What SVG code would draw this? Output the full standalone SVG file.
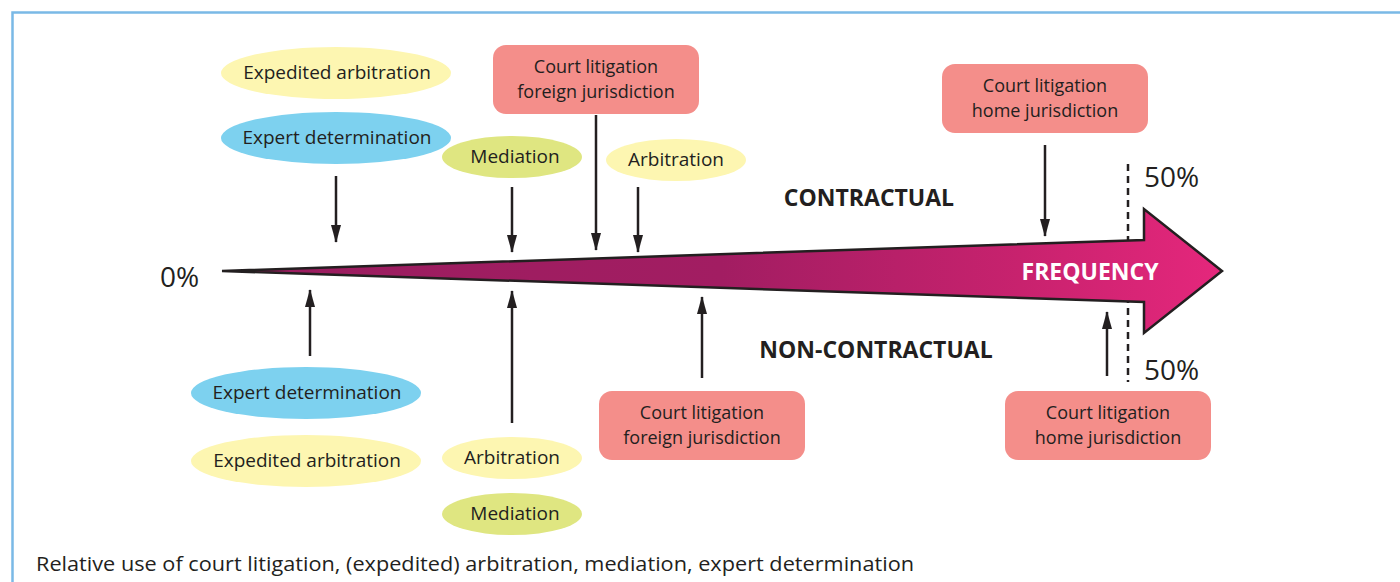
<svg xmlns="http://www.w3.org/2000/svg" width="1400" height="582" viewBox="0 0 1400 582">
<defs>
<style>
.t{font-family:"Open Sans","Liberation Sans",sans-serif;font-size:19px;fill:#231f20;text-anchor:middle}
.t2{font-family:"Open Sans","Liberation Sans",sans-serif;font-size:18px;fill:#231f20;text-anchor:middle}
.big{font-family:"Open Sans","Liberation Sans",sans-serif;font-size:28px;fill:#231f20}
.lbl{font-family:"Open Sans","Liberation Sans",sans-serif;font-size:23px;font-weight:bold;fill:#231f20;text-anchor:middle}
.yel{fill:#fdf6b1}
.blu{fill:#7dd1ef}
.grn{fill:#dfe681}
.pnk{fill:#f48e8a}
.con line{stroke:#231f20;stroke-width:2.5;marker-end:url(#ah)}
</style>
<marker id="ah" viewBox="0 0 18 10" refX="17" refY="5" markerWidth="18" markerHeight="10" markerUnits="userSpaceOnUse" orient="auto">
<path d="M0,0 L18,5 L0,10 Z" fill="#231f20"/>
</marker>
<linearGradient id="gr" x1="222" y1="0" x2="1222" y2="0" gradientUnits="userSpaceOnUse">
<stop offset="0" stop-color="#9a1d5f"/>
<stop offset="0.5" stop-color="#a21d62"/>
<stop offset="0.8" stop-color="#c8226e"/>
<stop offset="1" stop-color="#e5277c"/>
</linearGradient>
</defs>
<rect width="1400" height="582" fill="#fff"/>
<rect x="12.5" y="12.5" width="1400" height="600" fill="none" stroke="#7ab9e6" stroke-width="2.5"/>

<g id="half-line">
<line x1="1128" y1="164" x2="1128" y2="382" stroke="#231f20" stroke-width="2.5" stroke-dasharray="7,5"/>
<text class="big" x="1144" y="187">50%</text>
<text class="big" x="1144" y="380">50%</text>
</g>

<g id="freq-arrow">
<path d="M222,271 L1144,240 L1144,209 L1222,271 L1144,333 L1144,302 Z" fill="url(#gr)" stroke="#231f20" stroke-width="2.5" stroke-linejoin="miter"/>
<text x="1090" y="280" font-family="Open Sans, Liberation Sans, sans-serif" font-size="23" font-weight="bold" fill="#fff" text-anchor="middle">FREQUENCY</text>
</g>

<text id="zero" class="big" x="160" y="287">0%</text>
<text id="contractual" class="lbl" x="869" y="206">CONTRACTUAL</text>
<text id="noncontractual" class="lbl" x="876" y="358">NON-CONTRACTUAL</text>

<g id="top-expedited"><ellipse class="yel" cx="336" cy="73" rx="115" ry="26"/><text class="t" x="337" y="79">Expedited arbitration</text></g>
<g id="top-expert"><ellipse class="blu" cx="336" cy="138" rx="115" ry="26"/><text class="t" x="337" y="144">Expert determination</text></g>
<g id="top-mediation"><ellipse class="grn" cx="512" cy="157" rx="70" ry="21"/><text class="t" x="515" y="163">Mediation</text></g>
<g id="top-arbitration"><ellipse class="yel" cx="676" cy="160" rx="70" ry="21"/><text class="t" x="676" y="166">Arbitration</text></g>
<g id="top-court-foreign"><rect class="pnk" x="493" y="45" width="206" height="69" rx="13"/><text class="t2" x="596" y="73">Court litigation</text><text class="t2" x="596" y="97.5">foreign jurisdiction</text></g>
<g id="top-court-home"><rect class="pnk" x="942" y="64" width="206" height="69" rx="13"/><text class="t2" x="1045" y="92">Court litigation</text><text class="t2" x="1045" y="116.5">home jurisdiction</text></g>

<g id="bot-expert"><ellipse class="blu" cx="306" cy="393" rx="115" ry="26"/><text class="t" x="307" y="399">Expert determination</text></g>
<g id="bot-expedited"><ellipse class="yel" cx="306" cy="461" rx="115" ry="26"/><text class="t" x="307" y="467">Expedited arbitration</text></g>
<g id="bot-arbitration"><ellipse class="yel" cx="512" cy="458" rx="70" ry="21"/><text class="t" x="512" y="464">Arbitration</text></g>
<g id="bot-mediation"><ellipse class="grn" cx="512" cy="514" rx="70" ry="21"/><text class="t" x="515" y="520">Mediation</text></g>
<g id="bot-court-foreign"><rect class="pnk" x="599" y="391" width="206" height="69" rx="13"/><text class="t2" x="702" y="419">Court litigation</text><text class="t2" x="702" y="443.5">foreign jurisdiction</text></g>
<g id="bot-court-home"><rect class="pnk" x="1005" y="391" width="206" height="69" rx="13"/><text class="t2" x="1108" y="419">Court litigation</text><text class="t2" x="1108" y="443.5">home jurisdiction</text></g>

<g id="connectors" class="con">
<line x1="336" y1="176" x2="336" y2="242"/>
<line x1="512" y1="187" x2="512" y2="252"/>
<line x1="596" y1="115" x2="596" y2="250"/>
<line x1="638" y1="187" x2="638" y2="252"/>
<line x1="1045" y1="145" x2="1045" y2="236"/>
<line x1="310" y1="356" x2="310" y2="290"/>
<line x1="512" y1="423" x2="512" y2="291"/>
<line x1="702" y1="378" x2="702" y2="297"/>
<line x1="1107" y1="376" x2="1107" y2="312"/>
</g>

<text id="caption" x="36" y="571" font-family="Open Sans, Liberation Sans, sans-serif" font-size="20" fill="#231f20" textLength="878" lengthAdjust="spacingAndGlyphs">Relative use of court litigation, (expedited) arbitration, mediation, expert determination</text>
</svg>
